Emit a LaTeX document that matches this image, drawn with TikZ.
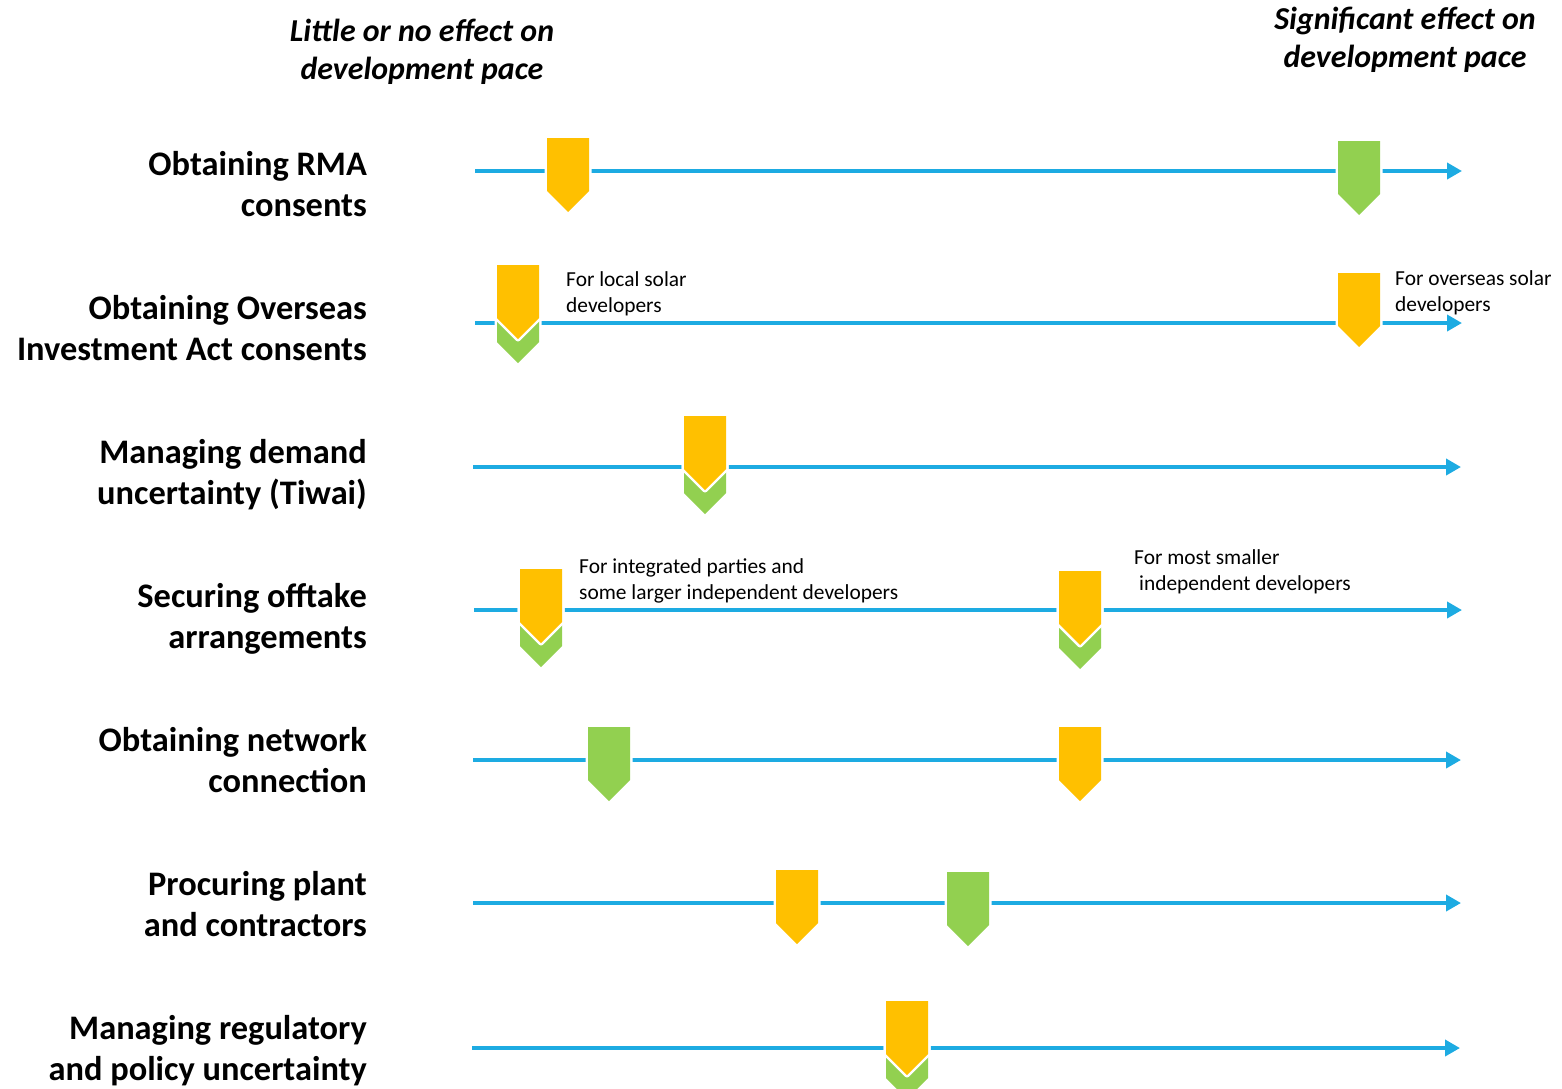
\documentclass[tikz,border=0pt]{standalone}
\usepackage{fontspec}
\setmainfont{Carlito}
\usetikzlibrary{arrows.meta}
\definecolor{lineblue}{RGB}{29,171,226}
\definecolor{myyel}{RGB}{255,192,0}
\definecolor{mygrn}{RGB}{146,208,80}
\begin{document}
\begin{tikzpicture}[x=1pt,y=-1pt,
  axisline/.style={draw=lineblue, line width=4pt, -{Triangle[length=15pt,width=16pt]}},
  rowlabel/.style={anchor=base east, align=right, inner sep=0pt, font=\fontsize{34.4}{41}\selectfont\bfseries},
  header/.style={anchor=base, align=center, inner sep=0pt, font=\fontsize{31.9}{38}\selectfont\bfseries\itshape},
  note/.style={anchor=base west, align=left, inner sep=0pt, font=\fontsize{21.4}{26}\selectfont},
  yellowmark/.style={fill=myyel},
  greenmark/.style={fill=mygrn},
  marker/.pic={
    \path[draw=white, fill=white, line width=5pt, line join=round] (-21,0) -- (21,0) -- (21,53) -- (0,74) -- (-21,53) -- cycle;
    \path[pic actions] (-21,0) -- (21,0) -- (21,53) -- (0,74) -- (-21,53) -- cycle;
  }]
\useasboundingbox (0,0) rectangle (1562,1088);

% headers (anchor base = last line)
\node[header] (hleft) at (422,79) {Little or no effect on\\development pace};
\node[header] (hright) at (1405,67) {Significant effect on\\development pace};

% row labels (anchor base = last line)
\node[rowlabel] (l1) at (367,216) {Obtaining RMA\\consents};
\node[rowlabel] (l2) at (367,360) {Obtaining Overseas\\Investment Act consents};
\node[rowlabel] (l3) at (367,504) {Managing demand\\uncertainty (Tiwai)};
\node[rowlabel] (l4) at (367,648) {Securing offtake\\arrangements};
\node[rowlabel] (l5) at (367,792) {Obtaining network\\connection};
\node[rowlabel] (l6) at (367,936) {Procuring plant\\and contractors};
\node[rowlabel] (l7) at (367,1080) {Managing regulatory\\and policy uncertainty};

% axis lines
\coordinate (s1) at (475,171);  \coordinate (e1) at (1462,171);
\coordinate (s2) at (475,323);  \coordinate (e2) at (1462,323);
\coordinate (s3) at (473,467);  \coordinate (e3) at (1461,467);
\coordinate (s4) at (474,610);  \coordinate (e4) at (1462,610);
\coordinate (s5) at (473,760);  \coordinate (e5) at (1461,760);
\coordinate (s6) at (473,903);  \coordinate (e6) at (1461,903);
\coordinate (s7) at (472,1048); \coordinate (e7) at (1460,1048);
\foreach \i in {1,...,7} {\draw[axisline] (s\i) -- (e\i);}

% markers
\pic[yellowmark] (m1a) at (568,138) {marker};
\pic[greenmark]  (m1b) at (1359,141) {marker};

\pic[greenmark]  (m2g) at (518,289) {marker};
\pic[yellowmark] (m2a) at (518,265) {marker};
\pic[yellowmark] (m2b) at (1359,273) {marker};

\pic[greenmark]  (m3g) at (705,440) {marker};
\pic[yellowmark] (m3a) at (705,416) {marker};

\pic[greenmark]  (m4g) at (541,593) {marker};
\pic[yellowmark] (m4a) at (541,569) {marker};
\pic[greenmark]  (m4h) at (1080,595) {marker};
\pic[yellowmark] (m4b) at (1080,571) {marker};

\pic[greenmark]  (m5a) at (609,727) {marker};
\pic[yellowmark] (m5b) at (1080,727) {marker};

\pic[yellowmark] (m6a) at (797,870) {marker};
\pic[greenmark]  (m6b) at (968,872) {marker};

\pic[greenmark]  (m7g) at (907,1025) {marker};
\pic[yellowmark] (m7a) at (907,1001) {marker};

% notes (anchor base = last line)
\node[note] (n1) at (566,312) {For local solar\\developers};
\node[note] (n2) at (1395,311) {For overseas solar\\developers};
\node[note] (n3) at (579,599) {For integrated parties and\\some larger independent developers};
\node[note] (n4) at (1134,590) {For most smaller\\\hspace*{5pt}independent developers};
\end{tikzpicture}
\end{document}
